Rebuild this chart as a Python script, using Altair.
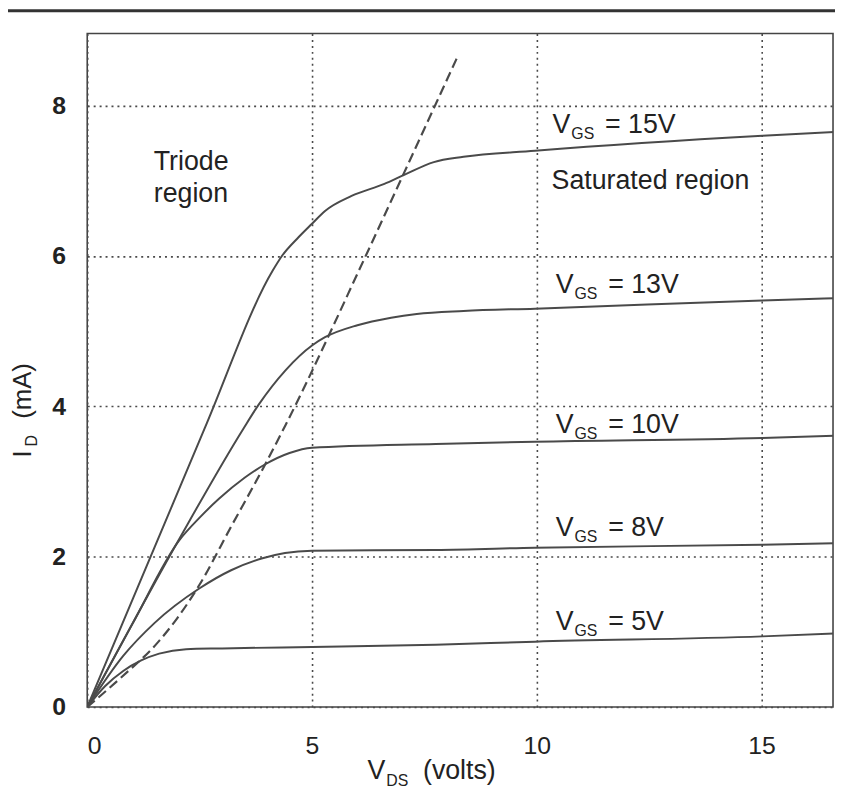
import altair as alt
import pandas as pd

# ---------------- data ----------------
vgs_names = ["5V", "8V", "10V", "13V", "15V"]

vds_5 = [0, 0.4, 0.8, 1.2, 1.6, 2.2, 3.0, 5.0, 7.75, 9.96, 15.02, 16.63]
id_5 = [0, 0.28, 0.48, 0.62, 0.71, 0.77, 0.78, 0.80, 0.83, 0.87, 0.94, 0.98]

vds_8 = [0, 0.8, 1.5, 2.5, 3.2, 3.9, 4.4, 5.0, 7.75, 9.96, 15.02, 16.63]
id_8 = [0, 0.68, 1.12, 1.58, 1.82, 1.98, 2.05, 2.08, 2.09, 2.12, 2.16, 2.18]

vds_10 = [0, 1.0, 2.05, 2.5, 2.93, 3.5, 3.96, 4.5, 5.0, 7.75, 9.96, 15.02, 16.63]
id_10 = [0, 1.1, 2.22, 2.52, 2.77, 3.05, 3.23, 3.38, 3.45, 3.50, 3.53, 3.58, 3.61]

vds_13 = [0, 2.05, 3.46, 3.81, 4.41, 5.0, 5.29, 6.01, 6.76, 7.33, 8.37, 9.96, 15.02, 16.63]
id_13 = [0, 2.24, 3.69, 4.02, 4.48, 4.81, 4.92, 5.08, 5.18, 5.23, 5.27, 5.30, 5.41, 5.44]

vds_15 = [0, 2.6, 4.12, 4.33, 4.7, 5.0, 5.29, 5.88, 6.61, 7.05, 7.71, 8.37, 9.96, 15.02, 16.63]
id_15 = [0, 3.69, 5.80, 6.0, 6.25, 6.43, 6.60, 6.80, 6.96, 7.08, 7.25, 7.32, 7.40, 7.60, 7.65]

vds_sat = [0, 0.73, 1.6, 2.0, 2.49, 3.2, 3.96, 4.41, 6.17, 7.05, 8.22]
id_sat = [0, 0.38, 0.88, 1.18, 1.62, 2.40, 3.23, 3.75, 5.97, 7.11, 8.63]

# curve label anchors (data units)
label_x = [10.42, 10.42, 10.42, 10.42, 10.35]
label_y = [1.03, 2.28, 3.65, 5.51, 7.64]

x_ticks = [0, 5, 10, 15]
y_ticks = [0, 2, 4, 6, 8]
x_max = 16.59
y_max = 8.96

# ---------------- tables ----------------
series = [vds_5, vds_8, vds_10, vds_13, vds_15]
values = [id_5, id_8, id_10, id_13, id_15]
rows = []
for name, xs_, ys_ in zip(vgs_names, series, values):
    for a, b in zip(xs_, ys_):
        rows.append({"vds": a, "id": b, "vgs": name})
curves = pd.DataFrame(rows)
sat = pd.DataFrame({"vds": vds_sat, "id": id_sat})
labels = pd.DataFrame({
    "lx": label_x, "ly": label_y,
    "v": ["V"] * 5, "sub": ["GS"] * 5,
    "eq": ["= " + n for n in vgs_names],
})

FONT = "Liberation Sans"
TXT = "#222222"
LINE = "#4a4a4a"
GRID = "#4a4a4a"
FS = 27
W, H = 753, 680

xsc = alt.Scale(domain=[0, x_max], nice=False, zero=False)
ysc = alt.Scale(domain=[0, y_max], nice=False, zero=False)

x_axis = alt.Axis(values=x_ticks, title=None, domain=False, ticks=False,
                  labelPadding=27, labelFontSize=25, labelFont=FONT,
                  labelColor=TXT, grid=True, gridDash=[2, 4], gridColor=GRID,
                  gridWidth=1.6, labelFlush=True)
y_axis = alt.Axis(values=y_ticks, title=None, domain=False, ticks=False,
                  labelPadding=22, labelFontSize=25, labelFont=FONT,
                  labelFontWeight="bold", labelColor=TXT, grid=True,
                  gridDash=[2, 4], gridColor=GRID, gridWidth=1.6)

lines = alt.Chart(curves).mark_line(
    color=LINE, strokeWidth=2, interpolate="monotone", clip=True
).encode(
    x=alt.X("vds:Q", scale=xsc, axis=x_axis),
    y=alt.Y("id:Q", scale=ysc, axis=y_axis),
    detail="vgs:N",
)

dashed = alt.Chart(sat).mark_line(
    color=LINE, strokeWidth=2.2, strokeDash=[10, 5], interpolate="monotone", clip=True
).encode(
    x=alt.X("vds:Q", scale=xsc, axis=x_axis),
    y=alt.Y("id:Q", scale=ysc, axis=y_axis),
)

lab_base = alt.Chart(labels).encode(
    x=alt.X("lx:Q", scale=xsc, axis=x_axis),
    y=alt.Y("ly:Q", scale=ysc, axis=y_axis),
)
lab_v = lab_base.mark_text(align="left", baseline="alphabetic", font=FONT,
                           fontSize=FS, color=TXT).encode(text="v:N")
lab_sub = lab_base.mark_text(align="left", baseline="alphabetic", font=FONT,
                             fontSize=16, color=TXT, dx=19, dy=6).encode(text="sub:N")
lab_eq = lab_base.mark_text(align="left", baseline="alphabetic", font=FONT,
                            fontSize=FS, color=TXT, dx=53).encode(text="eq:N")

regions = pd.DataFrame({"rx": [1.48, 10.33], "ry": [7.14, 6.89],
                        "txt": ["Triode\nregion", "Saturated region"]})
region_txt = alt.Chart(regions).mark_text(
    align="left", baseline="alphabetic", font=FONT, fontSize=FS, color=TXT,
    lineBreak="\n", lineHeight=32
).encode(
    x=alt.X("rx:Q", scale=xsc, axis=x_axis),
    y=alt.Y("ry:Q", scale=ysc, axis=y_axis),
    text="txt:N",
)

# axis titles with subscripts
xt = pd.DataFrame({"a": ["V"], "b": ["DS"], "c": ["(volts)"]})
xt_a = alt.Chart(xt).mark_text(align="left", baseline="alphabetic", font=FONT,
                               fontSize=FS, color=TXT).encode(
    x=alt.value(283), y=alt.value(753), text="a:N")
xt_b = alt.Chart(xt).mark_text(align="left", baseline="alphabetic", font=FONT,
                               fontSize=16, color=TXT, dx=19, dy=7).encode(
    x=alt.value(283), y=alt.value(753), text="b:N")
xt_c = alt.Chart(xt).mark_text(align="left", baseline="alphabetic", font=FONT,
                               fontSize=FS, color=TXT, dx=56).encode(
    x=alt.value(283), y=alt.value(753), text="c:N")

yt = pd.DataFrame({"a": ["I"], "b": ["D"], "c": ["(mA)"]})
yt_a = alt.Chart(yt).mark_text(align="left", baseline="alphabetic", font=FONT,
                               fontSize=26, color=TXT, angle=270).encode(
    x=alt.value(-57), y=alt.value(428), text="a:N")
yt_b = alt.Chart(yt).mark_text(align="left", baseline="alphabetic", font=FONT,
                               fontSize=16, color=TXT, angle=270, dx=11, dy=6).encode(
    x=alt.value(-57), y=alt.value(428), text="b:N")
yt_c = alt.Chart(yt).mark_text(align="left", baseline="alphabetic", font=FONT,
                               fontSize=26, color=TXT, angle=270, dx=39).encode(
    x=alt.value(-57), y=alt.value(428), text="c:N")

# printed page rule at the top of the scan
page_rule = alt.Chart(pd.DataFrame({"k": [0]})).mark_rule(
    color="#333333", strokeWidth=3
).encode(x=alt.value(-88), x2=alt.value(W + 2), y=alt.value(-23))

chart = alt.layer(
    lines, dashed, lab_v, lab_sub, lab_eq, region_txt,
    xt_a, xt_b, xt_c, yt_a, yt_b, yt_c, page_rule
).properties(
    width=W, height=H,
    padding={"left": 80, "top": 22, "right": 2, "bottom": 84},
    autosize=alt.AutoSizeParams(type="none"),
    background="white",
).configure_view(
    stroke="#444444", strokeWidth=1.6
)

chart.save("out.html", embed_options={"renderer": "svg", "actions": False})
